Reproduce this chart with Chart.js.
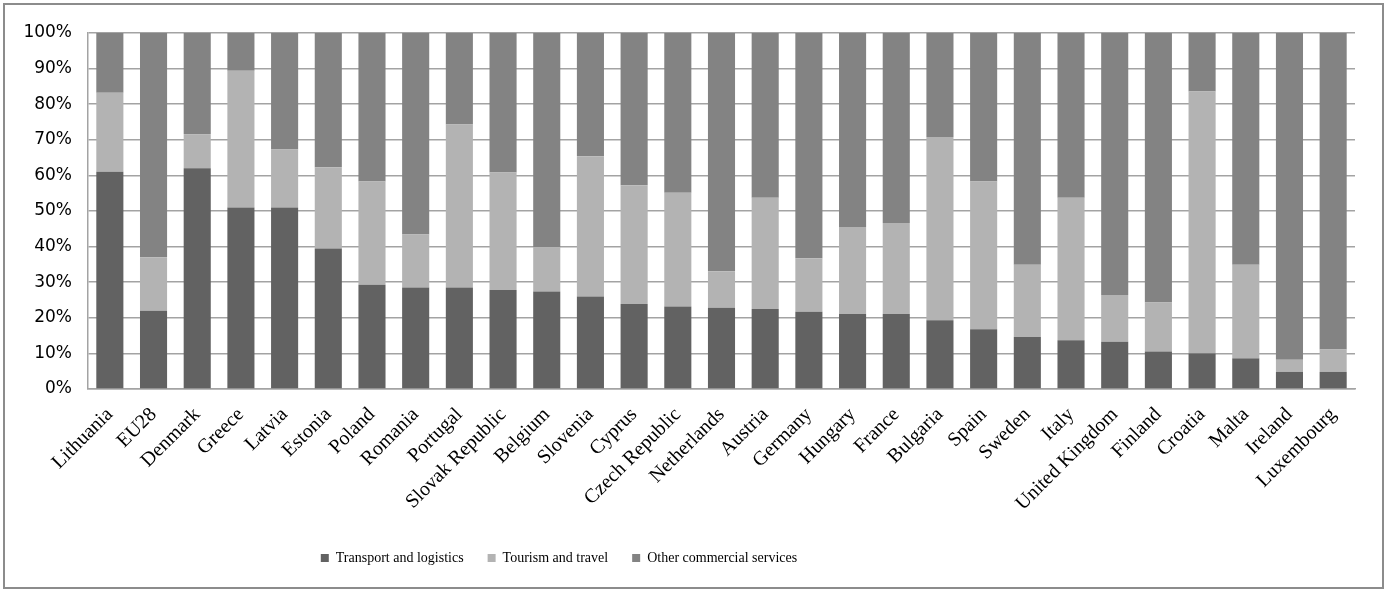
<!DOCTYPE html>
<html>
<head>
<meta charset="utf-8">
<script src="https://cdn.jsdelivr.net/npm/chart.js@4/dist/chart.umd.min.js"></script>
<style>
  html, body { margin: 0; padding: 0; background: #fff; }
  #frame {
    position: absolute; left: 3px; top: 3px;
    width: 1377px; height: 582px;
    border: 2px solid #8c8c8c;
    background: #fff;
  }
  #chart { display: block; }
</style>
</head>
<body>
<div id="frame"><canvas id="chart" width="1377" height="582"></canvas></div>
<script>
// Share of commercial services exports by type, per country (%)
const categories = [
  "Lithuania", "EU28", "Denmark", "Greece", "Latvia", "Estonia", "Poland", "Romania",
  "Portugal", "Slovak Republic", "Belgium", "Slovenia", "Cyprus", "Czech Republic",
  "Netherlands", "Austria", "Germany", "Hungary", "France", "Bulgaria", "Spain",
  "Sweden", "Italy", "United Kingdom", "Finland", "Croatia", "Malta", "Ireland", "Luxembourg"
];

const transportLogistics = [
  61, 22, 62, 51, 51, 39.5, 29.3, 28.5, 28.5, 27.8, 27.4, 26, 23.9, 23.2,
  22.8, 22.5, 21.7, 21.1, 21.1, 19.3, 16.8, 14.6, 13.7, 13.3, 10.5, 10, 8.6, 4.8, 4.8
];

const tourismTravel = [
  22.2, 15, 9.6, 38.4, 16.3, 22.8, 29, 14.9, 45.8, 33, 12.4, 39.4, 33.3, 31.9,
  10.3, 31.2, 15, 24.4, 25.5, 51.5, 41.5, 20.3, 40, 13.1, 13.8, 73.6, 26.3, 3.4, 6.3
];

const otherCommercial = [
  16.8, 63, 28.4, 10.6, 32.7, 37.7, 41.7, 56.6, 25.7, 39.2, 60.2, 34.6, 42.8, 44.9,
  66.9, 46.3, 63.3, 54.5, 53.4, 29.2, 41.7, 65.1, 46.3, 73.6, 75.7, 16.4, 65.1, 91.8, 88.9
];

const seriesNames = ["Transport and logistics", "Tourism and travel", "Other commercial services"];
const seriesColors = ["#626262", "#b3b3b3", "#838383"];
const yTicks = [0, 10, 20, 30, 40, 50, 60, 70, 80, 90, 100];

const GRID = "#a3a3a3";

// Moves the legend row left of the canvas centre
const legendShift = {
  id: "legendShift",
  afterLayout(chart) {
    const lg = chart.legend;
    if (!lg) return;
    const dx = -121;
    lg.left += dx;
    lg.right += dx;
  }
};

new Chart(document.getElementById("chart"), {
  type: "bar",
  data: {
    labels: categories,
    datasets: [
      { label: seriesNames[0], data: transportLogistics, backgroundColor: seriesColors[0] },
      { label: seriesNames[1], data: tourismTravel, backgroundColor: seriesColors[1] },
      { label: seriesNames[2], data: otherCommercial, backgroundColor: seriesColors[2] }
    ]
  },
  options: {
    responsive: false,
    animation: false,
    devicePixelRatio: 1,
    datasets: {
      bar: { categoryPercentage: 1, barPercentage: 0.62, borderWidth: 0 }
    },
    layout: { padding: { top: 28, right: 27, left: 0, bottom: 12 } },
    plugins: {
      tooltip: { enabled: false },
      legend: {
        position: "bottom",
        labels: {
          boxWidth: 8,
          boxHeight: 8,
          padding: 24,
          color: "#000",
          font: { family: "'Liberation Serif', 'Times New Roman', serif", size: 14 }
        }
      }
    },
    scales: {
      x: {
        stacked: true,
        grid: { display: false, drawTicks: false },
        border: { display: true, color: GRID, width: 1.5 },
        ticks: {
          autoSkip: false,
          minRotation: 45,
          maxRotation: 45,
          padding: 14,
          color: "#000",
          font: { family: "'Liberation Serif', 'Times New Roman', serif", size: 20 }
        },
        afterFit(scale) { scale.height = 138; }
      },
      y: {
        stacked: true,
        min: 0,
        max: 100,
        afterBuildTicks(scale) { scale.ticks = yTicks.map(v => ({ value: v })); },
        grid: { color: GRID, lineWidth: 1.5, drawTicks: false },
        border: { display: true, color: GRID, width: 1.5 },
        ticks: {
          padding: 16,
          color: "#000",
          font: { family: "'DejaVu Sans', Verdana, sans-serif", size: 17 },
          callback: v => v + "%"
        },
        afterFit(scale) { scale.width = 83; }
      }
    }
  },
  plugins: [legendShift]
});
</script>
</body>
</html>
